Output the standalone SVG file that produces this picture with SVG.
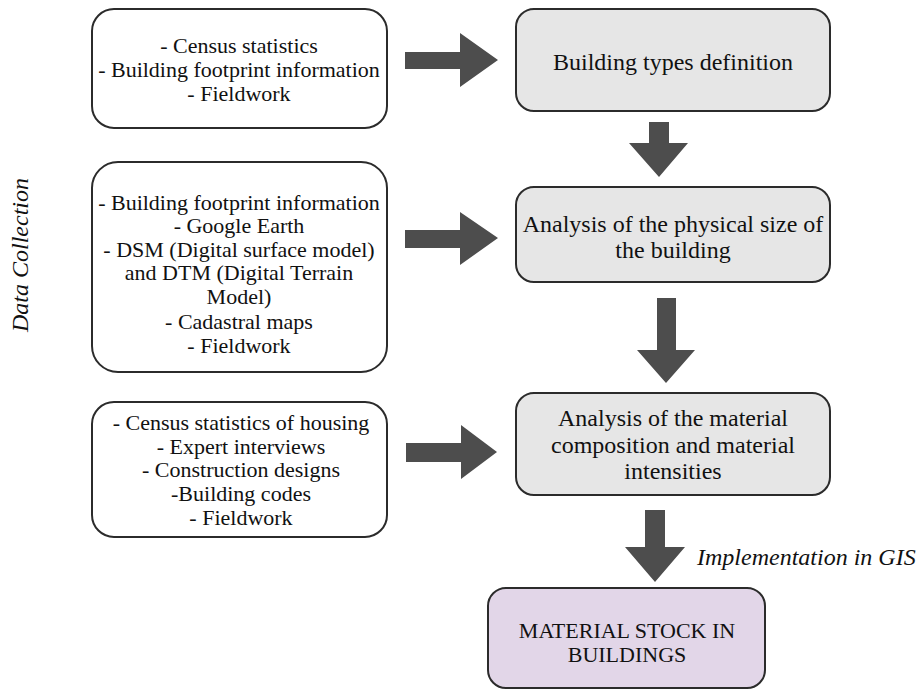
<svg xmlns="http://www.w3.org/2000/svg" width="919" height="689" viewBox="0 0 919 689">
<style>
.box{fill:#ffffff;stroke:#2b2b2b;stroke-width:2}
.gbox{fill:#e6e6e6;stroke:#2b2b2b;stroke-width:2}
.pbox{fill:#e2d6e8;stroke:#2b2b2b;stroke-width:2}
.t{font-family:"Liberation Serif","Times New Roman",serif;font-size:22px;fill:#111;text-anchor:middle}
.tr{font-family:"Liberation Serif","Times New Roman",serif;font-size:24px;fill:#111;text-anchor:middle}
.it{font-family:"Liberation Serif","Times New Roman",serif;font-size:24px;fill:#111;font-style:italic}
.arr{fill:#4d4d4d}
</style>
<rect width="919" height="689" fill="#ffffff"/>
<text class="it" transform="translate(28,255) rotate(-90)" text-anchor="middle">Data Collection</text>
<g id="src1">
<rect class="box" x="92" y="9" width="295" height="119" rx="22"/>
<text class="t" x="239" y="53">- Census statistics</text>
<text class="t" x="239" y="77">- Building footprint information</text>
<text class="t" x="239" y="101">- Fieldwork</text>
</g>
<g id="src2">
<rect class="box" x="92" y="162" width="295" height="210" rx="26"/>
<text class="t" x="239" y="210">- Building footprint information</text>
<text class="t" x="239" y="233">- Google Earth</text>
<text class="t" x="239" y="257">- DSM (Digital surface model)</text>
<text class="t" x="239" y="280">and DTM (Digital Terrain</text>
<text class="t" x="239" y="304">Model)</text>
<text class="t" x="239" y="329">- Cadastral maps</text>
<text class="t" x="239" y="353">- Fieldwork</text>
</g>
<g id="src3">
<rect class="box" x="92" y="402" width="295" height="135" rx="22"/>
<text class="t" x="241" y="430">- Census statistics of housing</text>
<text class="t" x="241" y="454">- Expert interviews</text>
<text class="t" x="241" y="477">- Construction designs</text>
<text class="t" x="241" y="501">-Building codes</text>
<text class="t" x="241" y="525">- Fieldwork</text>
</g>
<g id="types">
<rect class="gbox" x="516" y="9" width="314" height="102" rx="18"/>
<text class="tr" x="673" y="70">Building types definition</text>
</g>
<g id="size">
<rect class="gbox" x="516" y="187" width="314" height="95" rx="18"/>
<text class="tr" x="673" y="232">Analysis of the physical size of</text>
<text class="tr" x="673" y="258">the building</text>
</g>
<g id="material">
<rect class="gbox" x="516" y="393" width="314" height="102" rx="18"/>
<text class="tr" x="673" y="426">Analysis of the material</text>
<text class="tr" x="673" y="453">composition and material</text>
<text class="tr" x="673" y="479">intensities</text>
</g>
<g id="stock">
<rect class="pbox" x="488" y="588" width="277" height="100" rx="18"/>
<text class="t" x="627" y="638">MATERIAL STOCK IN</text>
<text class="t" x="627" y="662">BUILDINGS</text>
</g>
<g id="connectors">
<polygon class="arr" points="405,52 460,52 460,33 498,60 460,87 460,69 405,69"/>
<polygon class="arr" points="405,230 460,230 460,212 498,238 460,265 460,248 405,248"/>
<polygon class="arr" points="406,443 461,443 461,425 497,452 461,479 461,462 406,462"/>
<polygon class="arr" points="649,122 669,122 669,143 688,143 659,177 629,143 649,143"/>
<polygon class="arr" points="657,298 676,298 676,350 695,350 666,383 637,350 657,350"/>
<polygon class="arr" points="645,510 665,510 665,547 685,547 655,582 625,547 645,547"/>
<text class="it" x="697" y="565">Implementation in GIS</text>
</g>
</svg>
